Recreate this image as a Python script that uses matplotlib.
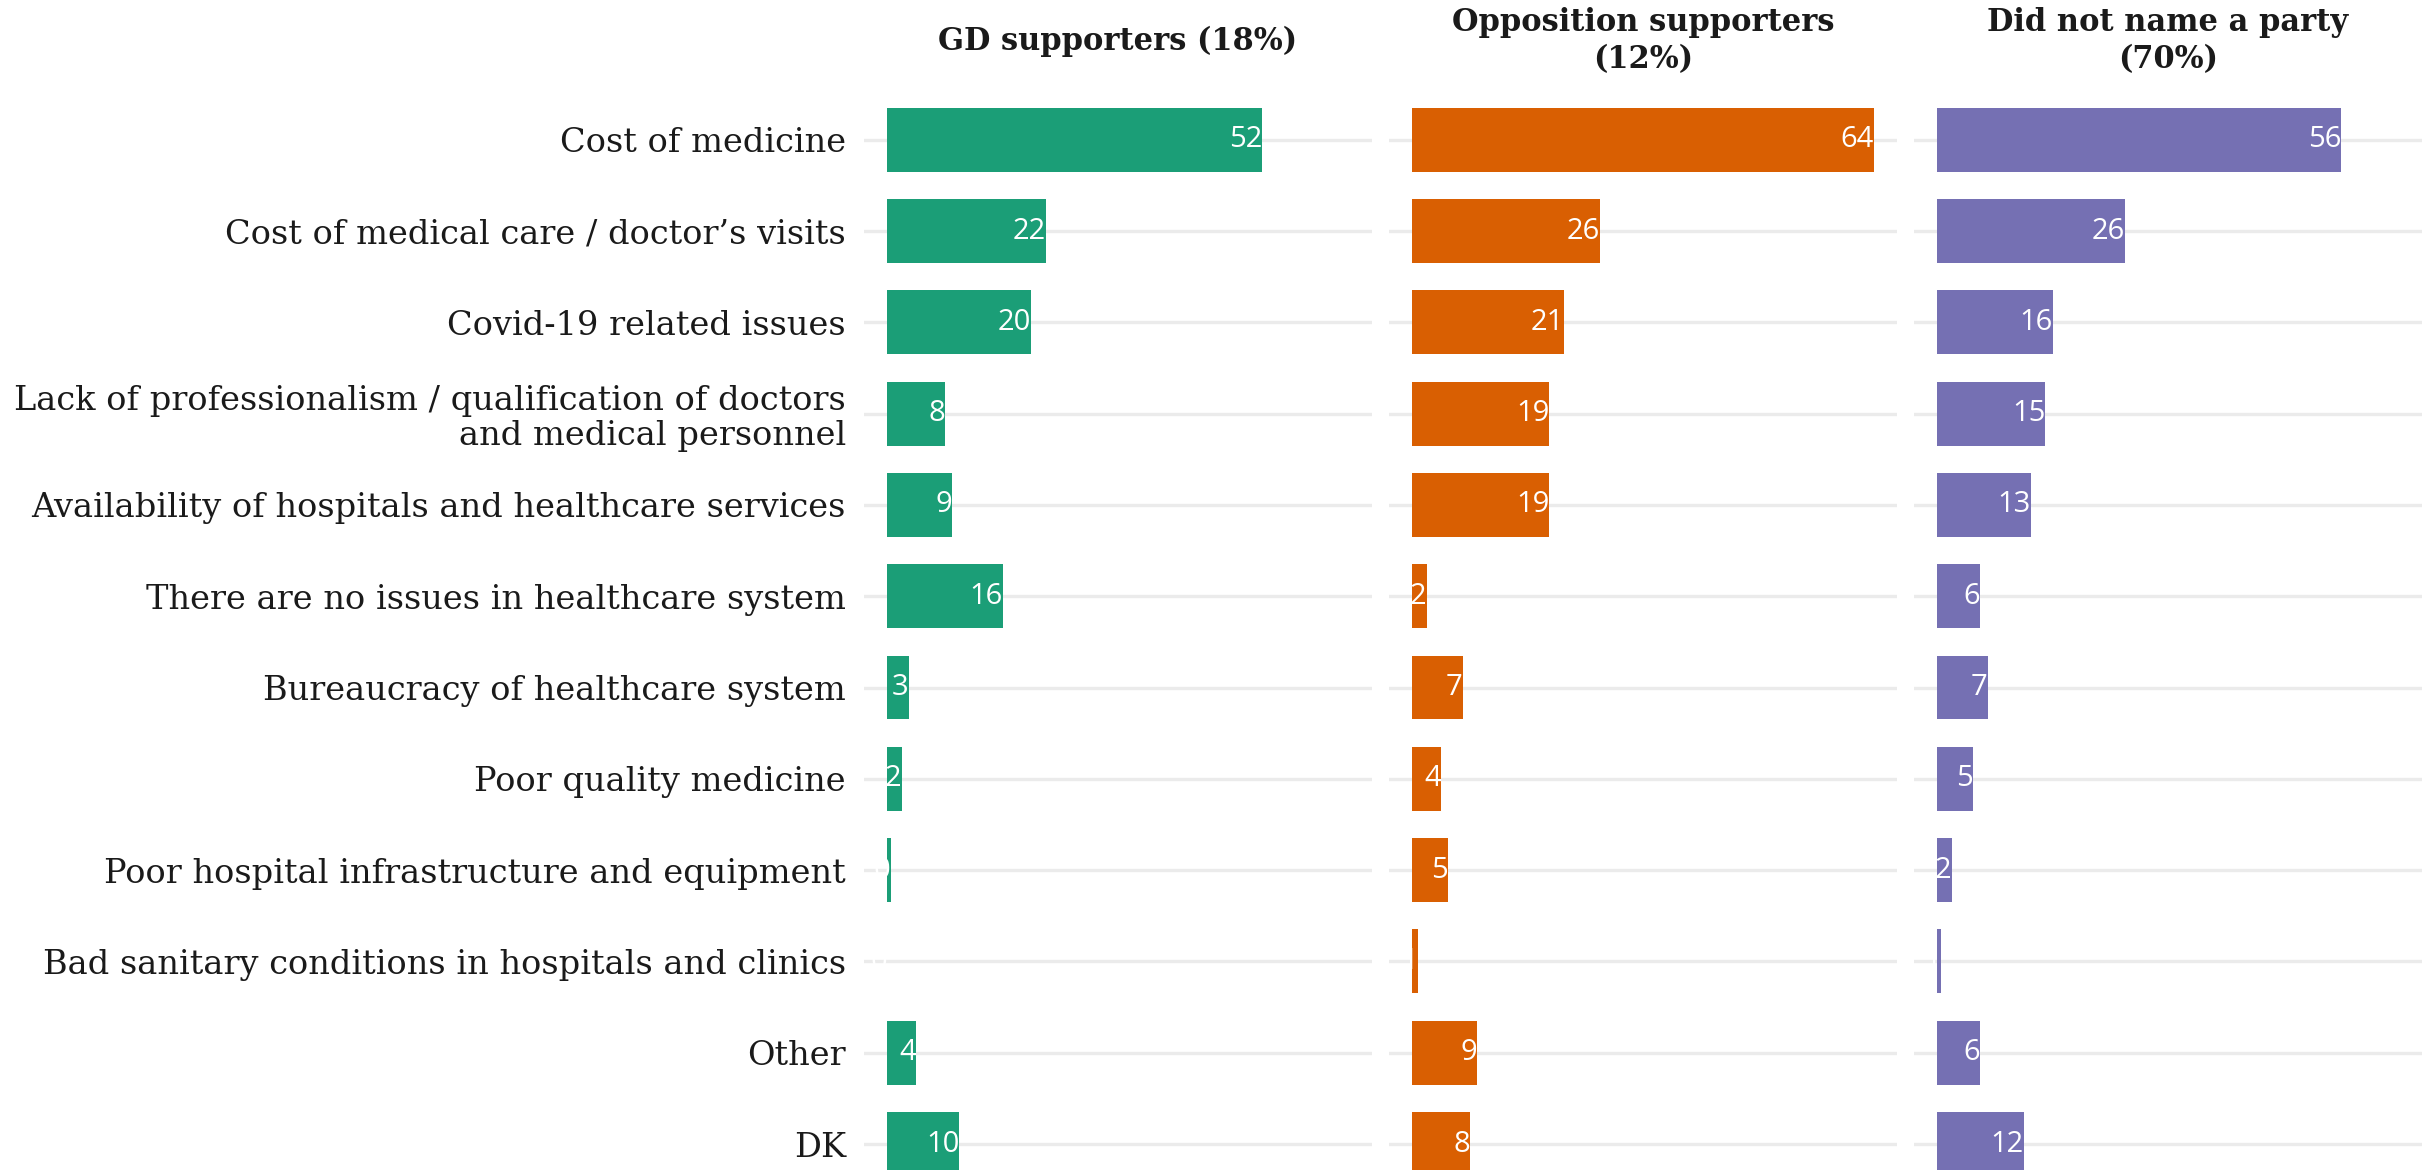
import numpy as np
import matplotlib
matplotlib.use("Agg")
import matplotlib.pyplot as plt

categories = [
    "Cost of medicine",
    "Cost of medical care / doctor\u2019s visits",
    "Covid-19 related issues",
    "Lack of professionalism / qualification of doctors\nand medical personnel",
    "Availability of hospitals and healthcare services",
    "There are no issues in healthcare system",
    "Bureaucracy of healthcare system",
    "Poor quality medicine",
    "Poor hospital infrastructure and equipment",
    "Bad sanitary conditions in hospitals and clinics",
    "Other",
    "DK",
]

groups = ["GD supporters (18%)", "Opposition supporters\n(12%)", "Did not name a party\n(70%)"]

gd_values = [52, 22, 20, 8, 9, 16, 3, 2, 0.5, 0, 4, 10]
opp_values = [64, 26, 21, 19, 19, 2, 7, 4, 5, 0.8, 9, 8]
none_values = [56, 26, 16, 15, 13, 6, 7, 5, 2, 0.6, 6, 12]

colors = ["#1B9E77", "#D95F02", "#7570B3"]

plt.rcParams['font.family'] = ['DejaVu Serif']

W, H = 2433, 1170
fig = plt.figure(figsize=(W / 100, H / 100), dpi=100)

panel_left = [864, 1389, 1914]
panel_w = 508
top_px = 85
y = np.arange(len(categories))

for i, (vals, title, col) in enumerate(zip([gd_values, opp_values, none_values], groups, colors)):
    ax = fig.add_axes([panel_left[i] / W, 0, panel_w / W, 1 - top_px / H])
    for yy in y:
        ax.axhline(yy, color="#EBEBEB", lw=2.4, zorder=0)
    ax.barh(y, vals, height=0.7, color=col, zorder=2)
    for yy, v in zip(y, vals):
        ax.text(v, yy, f"{round(v):d}", ha="right", va="center", color="white",
                fontsize=21, family="Open Sans", zorder=3)
    ax.set_xlim(-3.2, 67.2)
    ax.set_ylim(11 + 26 / 91.3, -0.6)
    ax.set_xticks([])
    ax.set_yticks([])
    for s in ax.spines.values():
        s.set_visible(False)
    if i == 0:
        ax.set_yticks(y)
        ax.set_yticklabels(categories, fontsize=24.2, color="#1A1A1A", linespacing=1.1)
        ax.tick_params(axis="y", length=0, pad=13)
    fig.text((panel_left[i] + panel_w / 2) / W, 1 - 41 / H, title, ha="center", va="center",
             fontsize=22, fontweight="bold", color="#1A1A1A", linespacing=1.25)

fig.savefig("out.png", dpi=100)
